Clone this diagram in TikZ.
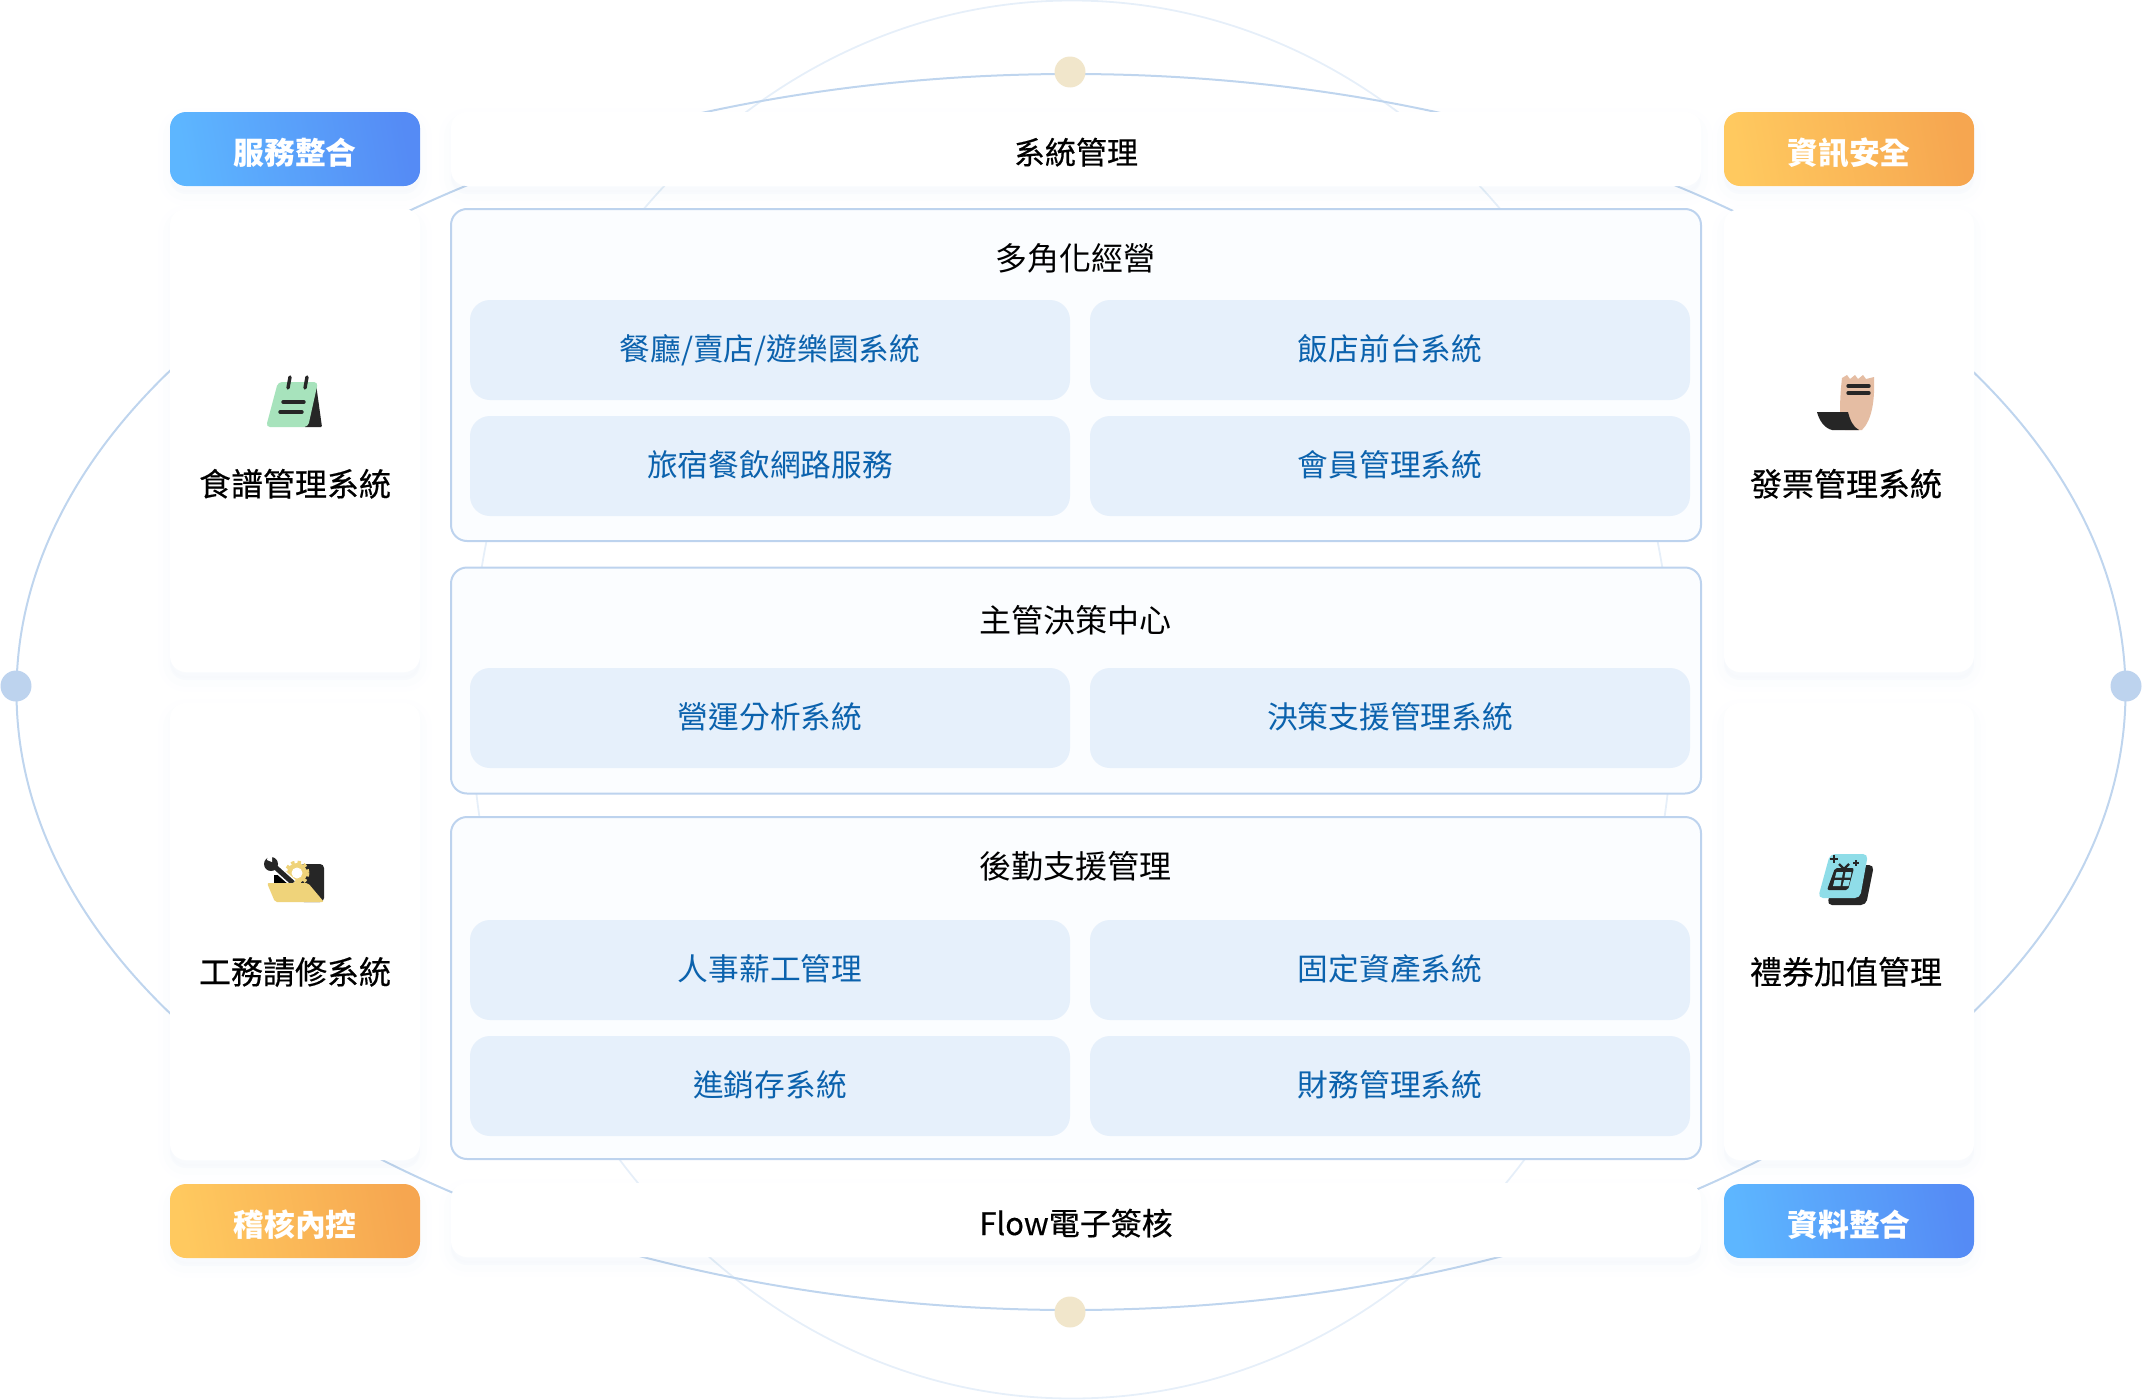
\documentclass[tikz,border=0pt]{standalone}
\usepackage{fontspec}
\setmainfont{Noto Sans CJK TC}
\newfontfamily\midfont[FakeBold=0.4]{Noto Sans CJK TC}
\usepackage{tikz}
\usetikzlibrary{shadings}

\definecolor{ringblue}{HTML}{BFD5EE}
\definecolor{ringfaint}{HTML}{E6EFF9}
\definecolor{dotblue}{HTML}{BDD3EE}
\definecolor{dotsand}{HTML}{F1E6CB}
\definecolor{cellfill}{HTML}{E6F0FB}
\definecolor{celltext}{HTML}{0B62AD}
\definecolor{groupfill}{HTML}{FBFDFF}
\definecolor{groupline}{HTML}{BDD3EE}
\definecolor{shadowblue}{HTML}{7FA6D6}
\definecolor{inkdark}{HTML}{262626}
\definecolor{mint}{HTML}{A7E3BC}
\definecolor{paper}{HTML}{E5BDA3}
\definecolor{sand}{HTML}{EFD37A}
\definecolor{aqua}{HTML}{8FDDE8}

\begin{document}
\begin{tikzpicture}[x=1pt, y=-1pt, node distance=116pt]
	\tikzstyle{softshadow} = [
		preaction={draw=shadowblue, fill=shadowblue, line width=24pt, opacity=.008, transform canvas={yshift=-8pt}},
		preaction={draw=shadowblue, fill=shadowblue, line width=14pt, opacity=.012, transform canvas={yshift=-8pt}},
		preaction={draw=shadowblue, fill=shadowblue, line width=5pt, opacity=.012, transform canvas={yshift=-6pt}}]
	\tikzstyle{tagblue} = [softshadow, rounded corners=16pt, minimum width=250pt, minimum height=74pt, inner sep=0pt, text=white, text height=34pt, text depth=4pt, font=\fontsize{30.8}{36}\selectfont\bfseries, left color=blue1, right color=blue2, shading angle=100]
	\tikzstyle{tagorange} = [tagblue, left color=orange1, right color=orange2, shading angle=100]
	\tikzstyle{card} = [softshadow, fill=white, rounded corners=16pt, minimum width=250pt, inner sep=0pt]
	\tikzstyle{bar} = [softshadow, fill=white, rounded corners=16pt, minimum width=1250pt, minimum height=74pt, inner sep=0pt, text height=34pt, text depth=4pt, font=\fontsize{31}{36}\midfont, text=black]
	\tikzstyle{group} = [draw=groupline, line width=2pt, fill=groupfill, rounded corners=16pt, minimum width=1250pt, inner sep=0pt]
	\tikzstyle{cell} = [fill=cellfill, rounded corners=20pt, minimum width=600pt, minimum height=100pt, inner sep=0pt, text height=28pt, text depth=8pt, font=\fontsize{30.7}{36}\selectfont, text=celltext]
	\tikzstyle{title} = [font=\fontsize{32}{36}\selectfont, text=black, inner sep=0pt, text height=30pt, text depth=6pt]
	\tikzstyle{label} = [font=\fontsize{32}{36}\midfont, text=black, inner sep=0pt, text height=30pt, text depth=6pt]
	\tikzstyle{dot} = [circle, minimum size=31pt, inner sep=0pt]
	\definecolor{blue1}{HTML}{5DB6FF}
	\definecolor{blue2}{HTML}{558BF5}
	\definecolor{orange1}{HTML}{FFC95F}
	\definecolor{orange2}{HTML}{F6A650}

	\useasboundingbox (0,0) rectangle (2142,1400);

	% rings behind everything
	\draw[ringfaint, line width=1.8pt] (1072,699.5) ellipse (601 and 699);
	\draw[ringblue, line width=2pt] (1071,692) ellipse (1054.5 and 618);
	\node[dot, fill=dotblue] (dotl) at (16,686) {};
	\node[dot, fill=dotblue] (dotr) at (2126,686) {};
	\node[dot, fill=dotsand] (dott) at (1070,72) {};
	\node[dot, fill=dotsand] (dotb) at (1070,1312) {};

	% side column left
	\node[tagblue] (integ) at (295,149) {服務整合};
	\node[card, minimum height=463pt] (menu) at (295,440.5) {};
	\node[card, minimum height=457pt] (repair) at (295,931.5) {};
	\node[tagorange] (audit) at (295,1221) {稽核內控};
	\node[label] (menut) at (295,484) {食譜管理系統};
	\node[label] (repairt) at (295,972) {工務請修系統};

	% side column right
	\node[tagorange] (secure) at (1849,149) {資訊安全};
	\node[card, minimum height=463pt] (invoice) at (1849,440.5) {};
	\node[card, minimum height=457pt] (voucher) at (1849,931.5) {};
	\node[tagblue] (datai) at (1849,1221) {資料整合};
	\node[label] (invoicet) at (1846,484) {發票管理系統};
	\node[label] (vouchert) at (1846,972) {禮券加值管理};

	% bars
	\node[bar] (sysbar) at (1076,149) {系統管理};
	\node[bar] (flowbar) at (1076,1220) {Flow電子簽核};

	% first group
	\begin{scope}
		\path
			node[group, minimum height=332pt] (multi) at (1076,375) {}
			node[title] (multit) at (1075,258) {多角化經營}
			node[cell] (diner) at (770,350) {餐廳/賣店/遊樂園系統}
			node[cell, below of=diner] (travel) {旅宿餐飲網路服務}
			node[cell, right of=diner, node distance=620pt] (front) {飯店前台系統}
			node[cell, right of=travel, node distance=620pt] (member) {會員管理系統}
			;
	\end{scope}
	% second group
	\begin{scope}
		\path
			node[group, minimum height=226pt] (boss) at (1076,680.5) {}
			node[title] (bosst) at (1075,620) {主管決策中心}
			node[cell] (oper) at (770,718) {營運分析系統}
			node[cell, right of=oper, node distance=620pt] (decide) {決策支援管理系統}
			;
	\end{scope}
	% third group
	\begin{scope}
		\path
			node[group, minimum height=342pt] (back) at (1076,988) {}
			node[title] (backt) at (1075,866) {後勤支援管理}
			node[cell] (staff) at (770,970) {人事薪工管理}
			node[cell, below of=staff] (stock) {進銷存系統}
			node[cell, right of=staff, node distance=620pt] (asset) {固定資產系統}
			node[cell, right of=stock, node distance=620pt] (money) {財務管理系統}
			;
	\end{scope}

	% notepad icon
	\begin{scope}
		\fill[inkdark, rounded corners=1pt] (316,384) -- (322,427) -- (304,427) -- cycle;
		\fill[mint, rounded corners=4pt] (278,382) -- (318,382) -- (308,427) -- (266,427) -- cycle;
		\draw[inkdark, line width=3.4pt, line cap=round] (290,377) -- (288,388) (307,377) -- (305,388);
		\draw[inkdark, line width=3.4pt, line cap=round] (283,402) -- (304,402) (280,412) -- (302,412);
	\end{scope}
	% receipt icon
	\begin{scope}
		\fill[paper] (1842,378) -- (1847,375) -- (1850,379) -- (1855,375) -- (1858,379) -- (1863,375) -- (1866,379) -- (1874,377)
			.. controls (1875,400) and (1872,420) .. (1862,430) -- (1845,430)
			.. controls (1838,425) and (1840,395) .. cycle;
		\fill[inkdark] (1817,412) -- (1848,412) .. controls (1850,420) and (1853,427) .. (1859,430) -- (1832,430) .. controls (1824,428) and (1819,420) .. cycle;
		\draw[inkdark, line width=3.4pt, line cap=round] (1848,386) -- (1869,386) (1848,393) -- (1869,393);
	\end{scope}
	% toolbox icon
	\begin{scope}
		\fill[inkdark, rounded corners=4pt] (300,864) -- (324,864) -- (324,902) -- (300,902) -- cycle;
		\fill[black] (274,875) -- (292,875) -- (292,884) -- (274,884) -- cycle;
		\fill[sand] (297,873) circle (10);
		\draw[sand, line width=3pt, dash pattern=on 3.5pt off 3pt] (297,873) circle (11);
		\fill[white] (297,873) circle (5.5);
		\draw[white, line width=8pt] (277,869) -- (293,883);
		\draw[inkdark, line width=5pt] (274,866) -- (293,883);
		\fill[inkdark] (271,864) circle (7);
		\fill[white] (267,860) -- (272,862) -- (272,857) -- (268,855) -- cycle;
		\fill[sand, rounded corners=2pt] (267,883) -- (308,883) -- (324,902) -- (275,902) -- cycle;
	\end{scope}
	% gift icon
	\begin{scope}
		\fill[inkdark, rounded corners=5pt] (1838,865) -- (1874,865) -- (1866,905) -- (1827,905) -- cycle;
		\fill[aqua, rounded corners=5pt] (1830,854) -- (1868,854) -- (1860,898) -- (1818,898) -- cycle;
		\fill[inkdark, rounded corners=2pt] (1835,868) -- (1854,868) -- (1848,890) -- (1827,890) -- cycle;
		\draw[inkdark, line width=2.4pt] (1839,864) -- (1844,869) -- (1849,864);
		\fill[aqua] (1836.5,872) -- (1843,872) -- (1842,877.5) -- (1835,877.5) -- cycle;
		\fill[aqua] (1845.5,872) -- (1851.5,872) -- (1850.5,877.5) -- (1844.5,877.5) -- cycle;
		\fill[aqua] (1834.5,880) -- (1841.5,880) -- (1840.5,886) -- (1833,886) -- cycle;
		\fill[aqua] (1844,880) -- (1850,880) -- (1848.5,886) -- (1842.5,886) -- cycle;
		\draw[inkdark, line width=1.2pt] (1834,855) -- (1834,863) (1830,859) -- (1838,859);
		\draw[inkdark, line width=1.2pt] (1856,860) -- (1856,866) (1853,863) -- (1859,863);
	\end{scope}
\end{tikzpicture}
\end{document}
